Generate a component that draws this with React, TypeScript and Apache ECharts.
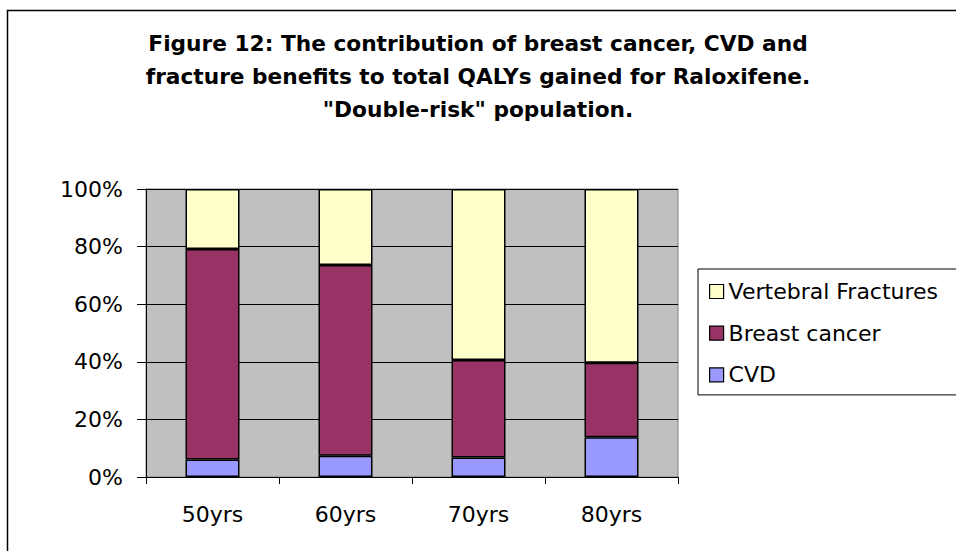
import React, { useEffect, useRef } from "react";
import * as echarts from "echarts";

const categories = ["50yrs", "60yrs", "70yrs", "80yrs"];
const cvd = [6.1, 7.4, 6.8, 13.8];
const breastCancer = [73.1, 66.2, 33.8, 25.9];
const vertebralFractures = [20.8, 26.4, 59.4, 60.3];
const titleLines = [
  "Figure 12: The contribution of breast cancer, CVD and",
  "fracture benefits to total QALYs gained for Raloxifene.",
  "\"Double-risk\" population.",
];

export default function App() {
  const ref = useRef<HTMLDivElement>(null);
  useEffect(() => {
    if (!ref.current) return;
    const chart = echarts.init(ref.current, null, { renderer: "svg" });
    const font = "DejaVu Sans";
    const border = { borderColor: "#000", borderWidth: 1.5 };
    chart.setOption({
      animation: false,
      backgroundColor: "#fff",
      textStyle: { fontFamily: font },
      title: {
        text: titleLines.join("\n"),
        left: "center",
        top: 22,
        textStyle: {
          fontFamily: font,
          fontSize: 21.7,
          fontWeight: "bold",
          color: "#000",
          lineHeight: 33,
        },
      },
      graphic: [
        {
          type: "rect",
          shape: { x: 7.5, y: 10.5, width: 1200, height: 1000 },
          style: { fill: "none", stroke: "#000", lineWidth: 1.5 },
          silent: true,
          z: -1,
        },
      ],
      legend: {
        orient: "vertical",
        left: 698,
        top: 269,
        data: ["Vertebral Fractures", "Breast cancer", "CVD"],
        itemWidth: 14,
        itemHeight: 14,
        itemGap: 19.7,
        padding: [11.5, 40, 9, 11],
        borderColor: "#000",
        borderWidth: 1,
        backgroundColor: "#fff",
        textStyle: { fontFamily: font, fontSize: 22, color: "#000", lineHeight: 22 },
        icon: "rect",
        itemStyle: { borderColor: "#000", borderWidth: 1.2 },
      },
      grid: {
        left: 146,
        top: 189,
        width: 532,
        height: 288,
        show: true,
        backgroundColor: "#C0C0C0",
        borderColor: "#808080",
        borderWidth: 1,
      },
      xAxis: {
        type: "category",
        data: categories,
        axisLine: { lineStyle: { color: "#000", width: 1 } },
        axisTick: { show: true, length: 7, lineStyle: { color: "#000" } },
        axisLabel: { fontFamily: font, fontSize: 22, color: "#000", margin: 26 },
      },
      yAxis: {
        type: "value",
        min: 0,
        max: 100,
        interval: 20,
        axisLine: { show: true, lineStyle: { color: "#000", width: 1 } },
        axisTick: { show: true, length: 9, lineStyle: { color: "#000" } },
        axisLabel: { fontFamily: font, fontSize: 22, color: "#000", margin: 23, formatter: "{value}%" },
        splitLine: { show: true, lineStyle: { color: "#000", width: 1 } },
      },
      series: [
        {
          name: "CVD",
          type: "bar",
          stack: "total",
          barWidth: 54,
          data: cvd,
          itemStyle: { color: "#9999FF", ...border },
        },
        {
          name: "Breast cancer",
          type: "bar",
          stack: "total",
          barWidth: 54,
          data: breastCancer,
          itemStyle: { color: "#993366", ...border },
        },
        {
          name: "Vertebral Fractures",
          type: "bar",
          stack: "total",
          barWidth: 54,
          data: vertebralFractures,
          itemStyle: { color: "#FFFFCC", ...border },
        },
      ],
    });
    return () => chart.dispose();
  }, []);
  return (
    <div
      ref={ref}
      style={{ position: "fixed", left: 0, top: 0, width: 956, height: 551 }}
    />
  );
}
